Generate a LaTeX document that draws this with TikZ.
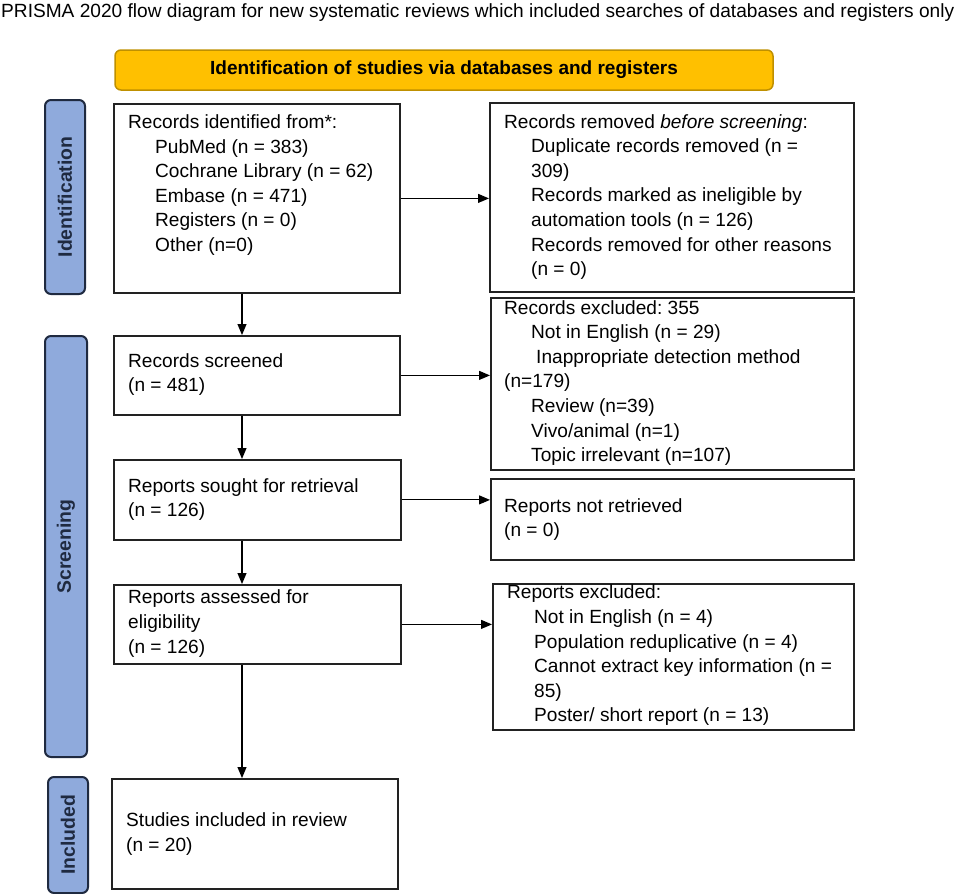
\documentclass[tikz,border=0pt]{standalone}
\usepackage{fontspec}
\setmainfont{Liberation Sans}
\usetikzlibrary{arrows.meta}
\definecolor{gold}{HTML}{FFC000}
\definecolor{golddark}{HTML}{BF9000}
\definecolor{sideblue}{HTML}{8FAADC}
\definecolor{sidedark}{HTML}{1F2A40}
\definecolor{boxline}{HTML}{222222}
\tikzset{
  box/.style={draw=boxline, line width=1.8pt, fill=white, inner sep=0pt, anchor=north west},
  side/.style={draw=sidedark, fill=sideblue, line width=2pt, rounded corners=6pt, inner sep=0pt, anchor=north west},
  sidetext/.style={font=\fontsize{19.4}{22}\selectfont\bfseries, text=sidedark, rotate=90},
  txt/.style={font=\fontsize{19.1}{24.6}\selectfont, align=left, inner sep=0pt, anchor=west},
  arr/.style={line width=1.1pt, draw=black, -{Triangle[length=11pt,width=9pt]}},
}
\newcommand{\ind}{\hspace*{27pt}}
\frenchspacing
\begin{document}
\frenchspacing
\begin{tikzpicture}[x=1pt,y=-1pt]
\useasboundingbox (0,0) rectangle (956,894);
% title
\node[anchor=base west, inner sep=0pt] (title) at (1,17) {\resizebox{953pt}{!}{\fontsize{18}{20}\selectfont PRISMA 2020 flow diagram for new systematic reviews which included searches of databases and registers only}};
% banner
\node[draw=golddark, fill=gold, line width=1.5pt, rounded corners=6pt, minimum width=658pt, minimum height=40pt, inner sep=0pt, font=\fontsize{19}{22}\selectfont\bfseries] (banner) at (444,70) {Identification of studies via databases and registers};
% side bars
\node[side, minimum width=40pt, minimum height=194pt] (s1) at (44,99) {};
\node[sidetext] at (s1.center) {Identification};
\node[side, minimum width=42pt, minimum height=421pt] (s2) at (44,335) {};
\node[sidetext] at (s2.center) {Screening};
\node[side, minimum width=40pt, minimum height=116pt] (s3) at (47,776) {};
\node[sidetext] at (s3.center) {Included};
% left boxes
\node[box, minimum width=286pt, minimum height=189pt] (b1) at (113,103) {};
\node[box, minimum width=286pt, minimum height=79pt] (b2) at (113,335) {};
\node[box, minimum width=287pt, minimum height=80pt] (b3) at (113,459) {};
\node[box, minimum width=287pt, minimum height=79pt] (b4) at (113,584) {};
\node[box, minimum width=286pt, minimum height=110pt] (b5) at (111,778) {};
% right boxes
\node[box, minimum width=364pt, minimum height=189pt] (r1) at (489,102) {};
\node[box, minimum width=363pt, minimum height=172pt] (r2) at (490,297) {};
\node[box, minimum width=363pt, minimum height=81pt] (r3) at (490,478) {};
\node[box, minimum width=361pt, minimum height=146pt] (r4) at (492,583) {};
% texts left
\node[txt] (t1) at (128,185) {Records identified from*:\\\ind PubMed (n = 383)\\\ind Cochrane Library (n = 62)\\\ind Embase (n = 471)\\\ind Registers (n = 0)\\\ind Other (n=0)};
\node[txt] (t2) at (128,374.5) {Records screened\\(n = 481)};
\node[txt] (t3) at (128,499.5) {Reports sought for retrieval\\(n = 126)};
\node[txt] (t4) at (128,623.5) {Reports assessed for\\eligibility\\(n = 126)};
\node[txt] (t5) at (126,834) {Studies included in review\\(n = 20)};
% texts right
\node[txt] (u1) at (504,197) {Records removed \textit{before screening}:\\\ind Duplicate records removed (n =\\\ind 309)\\\ind Records marked as ineligible by\\\ind automation tools (n = 126)\\\ind Records removed for other reasons\\\ind (n = 0)};
\node[txt] (u2) at (504,383) {Records excluded: 355\\\ind Not in English (n = 29)\\\hspace*{32pt}Inappropriate detection method\\(n=179)\\\ind Review (n=39)\\\ind Vivo/animal (n=1)\\\ind Topic irrelevant (n=107)};
\node[txt] (u3) at (504,519.5) {Reports not retrieved\\(n = 0)};
\node[txt] (u4) at (507,655.5) {Reports excluded:\\\ind Not in English (n = 4)\\\ind Population reduplicative (n = 4)\\\ind Cannot extract key information (n =\\\ind 85)\\\ind Poster/ short report (n = 13)};
% arrows
\coordinate (ax) at (242,0);
\draw[arr] (b1.south -| ax) -- (b2.north -| ax);
\draw[arr] (b2.south -| ax) -- (b3.north -| ax);
\draw[arr] (b3.south -| ax) -- (b4.north -| ax);
\draw[arr] (b4.south -| ax) -- (b5.north -| ax);
\draw[arr] (b1.east) -- (b1.east -| r1.west);
\draw[arr] (b2.east) -- (b2.east -| r2.west);
\draw[arr] (b3.east) -- (b3.east -| r3.west);
\draw[arr] (b4.east) -- (b4.east -| r4.west);
\end{tikzpicture}
\end{document}
